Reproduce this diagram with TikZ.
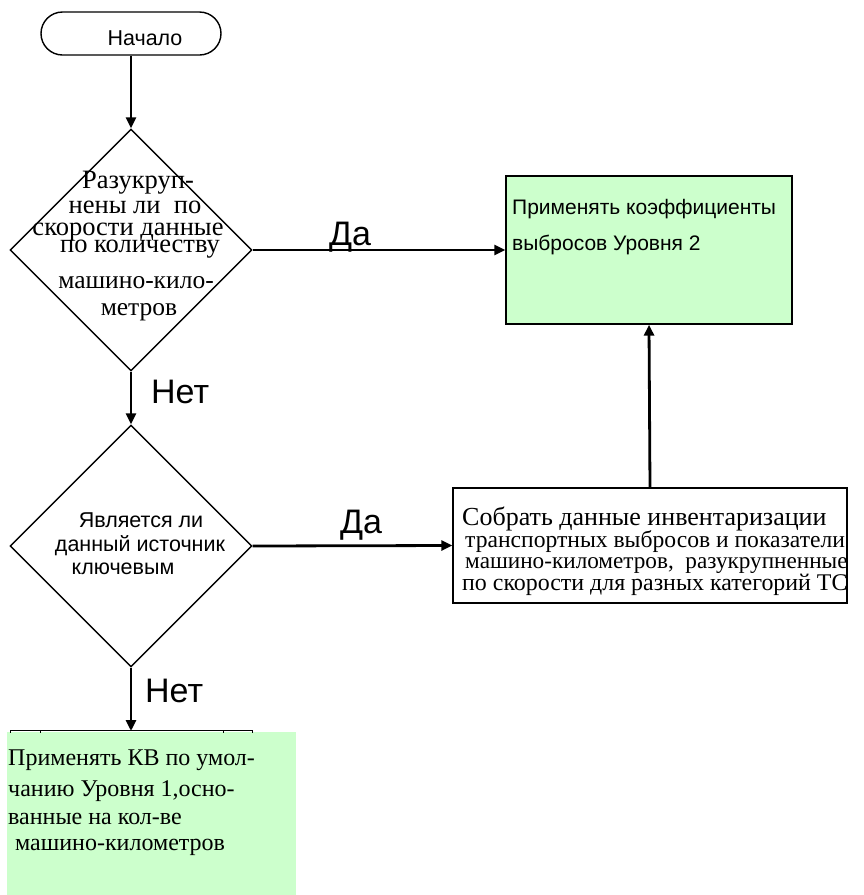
\documentclass[tikz,border=0pt]{standalone}
\usepackage{fontspec}
\setmainfont{Liberation Serif}
\newfontfamily\arialf{Liberation Sans}
\usetikzlibrary{arrows.meta,shapes.geometric,shapes.misc}
\definecolor{lgreen}{RGB}{204,255,204}
\begin{document}
\begin{tikzpicture}[x=1pt,y=-1pt,
  conn/.style={line width=2.8pt,-{Triangle[length=11pt,width=10pt]}},
  shp/.style={draw,line width=1.4pt,inner sep=0pt},
  dia/.style={shp,diamond,minimum width=242pt,minimum height=242pt},
  sans/.style={font=\arialf\fontsize{#1}{#1}\selectfont,inner sep=0pt,anchor=base},
  serif/.style={font=\fontsize{#1}{#1}\selectfont,inner sep=0pt,anchor=base},
  lbl/.style={font=\arialf\fontsize{34}{34}\selectfont,inner sep=0pt,anchor=base west}]
\useasboundingbox (0,0) rectangle (863,895);
% start
\node[shp,rounded rectangle,minimum width=180pt,minimum height=43pt] (start) at (131,33.5) {};
\node[sans=21.5] (tstart) at (145,45) {Начало};
% diamond 1
\node[dia] (d1) at (131,250) {};
\node[serif=26.5] (t11) at (138,188) {Разукруп-};
\node[serif=26.5] (t12) at (135,213) {нены ли\ \ по};
\node[serif=26.5] (t13) at (128,235) {скорости данные};
\node[serif=26.5] (t14) at (140,252) {по количеству};
\node[serif=25.5] (t15) at (136,288) {машино-кило-};
\node[serif=25.5] (t16) at (139,315) {метров};
% diamond 2
\node[dia] (d2) at (131,546) {};
\node[sans=21.5] (t21) at (141,527) {Является ли};
\node[sans=21.5] (t22) at (140,551) {данный источник};
\node[sans=21.5] (t23) at (123,574) {ключевым};
% box 2
\node[shp,fill=lgreen,minimum width=286pt,minimum height=148pt] (b2) at (649,250) {};
\node[sans=21,anchor=base west] (t31) at (512,214) {Применять коэффициенты};
\node[sans=21,anchor=base west] (t32) at (512,250) {выбросов Уровня 2};
% box 3
\node[shp,minimum width=394pt,minimum height=115pt] (b3) at (650,545.5) {};
\node[serif=26,anchor=base west] (t41) at (462,525) {Собрать данные инвентаризации};
\node[serif=23.6,anchor=base west] (t42) at (465,547) {транспортных выбросов и показатели};
\node[serif=23.2,anchor=base west] (t43) at (465,568) {машино-километров,\ \ разукрупненные};
\node[serif=23.9,anchor=base west] (t44) at (462,590) {по скорости для разных категорий ТС};
% box 4
\node[fill=lgreen,inner sep=0pt,minimum width=289pt,minimum height=163pt] (b4) at (151.5,813.5) {};
\coordinate (b4top) at (131,731);
\draw[line width=1pt] (10,730) -- (252,730);
\foreach \xx in {10,40,223,252} \draw[line width=1pt] (\xx,730) -- (\xx,733);
\node[serif=24,anchor=base west] (t51) at (8,765) {Применять КВ по умол-};
\node[serif=24,anchor=base west] (t52) at (8,796) {чанию Уровня 1,осно-};
\node[serif=24,anchor=base west] (t53) at (8,824) {ванные на кол-ве};
\node[serif=24,anchor=base west] (t54) at (15,850) {машино-километров};
% connectors
\draw[conn] (start.south) -- (d1.north);
\draw[conn] (d1.south) -- (d2.north);
\draw[conn] (d1.east) -- (b2.west);
\draw[conn] (d2.east) -- (b3.west);
\draw[conn] (d2.south) -- (b4top);
\draw[conn] (b3.north) -- (b2.south);
% labels
\node[lbl] (yes1) at (329,245) {Да};
\node[lbl] (yes2) at (340,533) {Да};
\node[lbl] (no1) at (151,403) {Нет};
\node[lbl] (no2) at (145,702) {Нет};
\end{tikzpicture}
\end{document}
